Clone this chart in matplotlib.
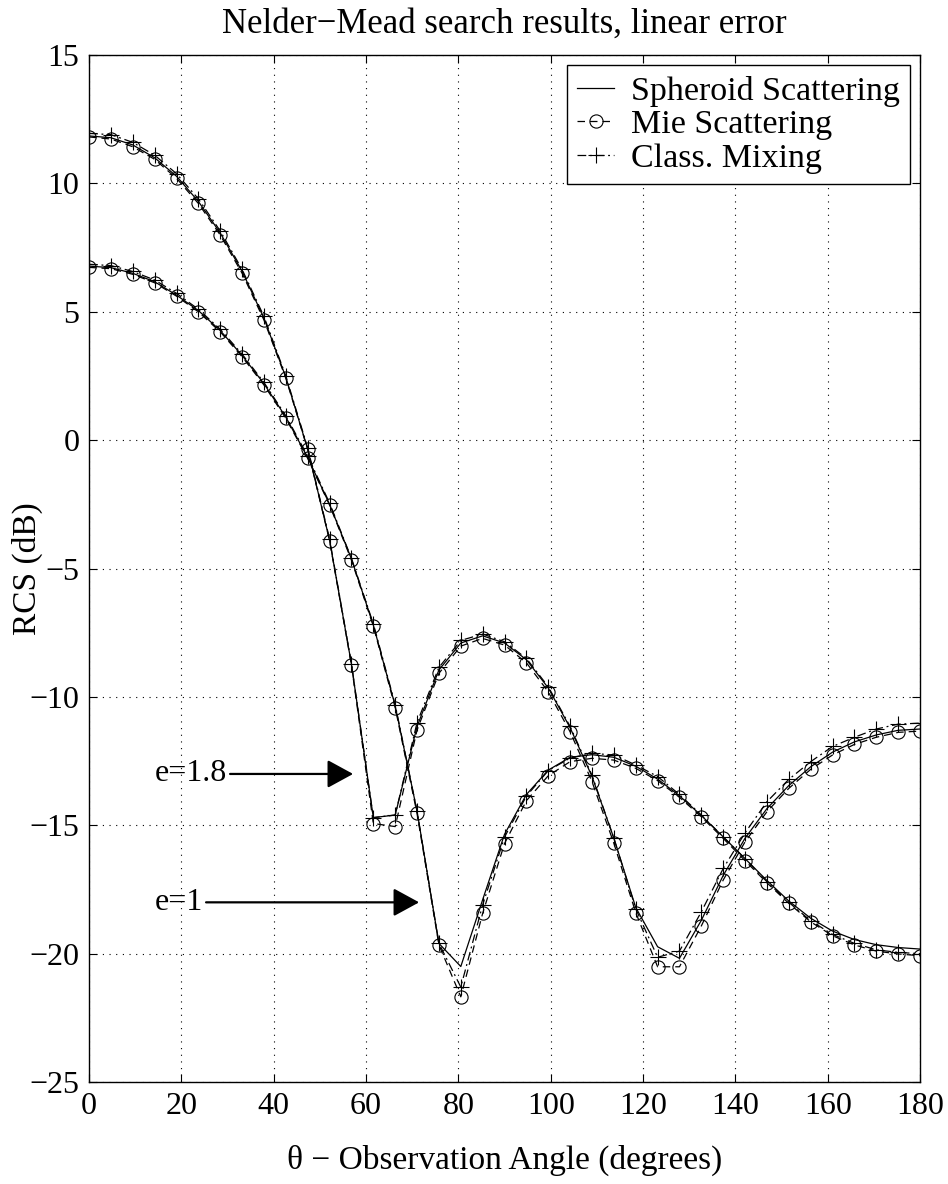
import matplotlib
matplotlib.use("Agg")
import matplotlib.pyplot as plt

plt.rcParams['font.family'] = ['Liberation Serif', 'DejaVu Serif']

# observation angles (degrees), 39 samples
theta = [0, 4.74, 9.47, 14.21, 18.95, 23.68, 28.42, 33.16, 37.89, 42.63,
         47.37, 52.11, 56.84, 61.58, 66.32, 71.05, 75.79, 80.53, 85.26, 90,
         94.74, 99.47, 104.21, 108.95, 113.68, 118.42, 123.16, 127.89, 132.63,
         137.37, 142.11, 146.84, 151.58, 156.32, 161.05, 165.79, 170.53,
         175.26, 180]

# e = 1.8
spheroid_18 = [11.85, 11.78, 11.5, 11.0, 10.28, 9.3, 8.07, 6.58, 4.75, 2.45,
               -0.35, -3.9, -8.72, -14.7, -14.6, -11.15, -8.95, -7.9, -7.62,
               -7.9, -8.55, -9.65, -11.2, -13.1, -15.5, -18.2, -19.73, -20.18,
               -18.7, -16.95, -15.5, -14.35, -13.45, -12.72, -12.15, -11.75,
               -11.48, -11.3, -11.25]
mie_18 = [11.81, 11.73, 11.43, 10.94, 10.20, 9.22, 7.99, 6.50, 4.68, 2.41,
          -0.36, -3.92, -8.76, -14.93, -15.05, -11.29, -9.08, -8.02, -7.72,
          -7.98, -8.67, -9.80, -11.36, -13.30, -15.70, -18.40, -20.51, -20.51,
          -18.92, -17.13, -15.64, -14.47, -13.56, -12.82, -12.26, -11.85,
          -11.57, -11.38, -11.33]
mixing_18 = [11.95, 11.9, 11.6, 11.1, 10.38, 9.4, 8.15, 6.65, 4.82, 2.5,
             -0.3, -3.85, -8.7, -14.7, -14.6, -11.0, -8.85, -7.8, -7.55,
             -7.85, -8.5, -9.6, -11.15, -13.05, -15.5, -18.25, -20.14, -19.9,
             -18.37, -16.68, -15.29, -14.08, -13.21, -12.52, -11.93, -11.57,
             -11.25, -11.06, -11.02]

# e = 1
spheroid_1 = [6.78, 6.72, 6.5, 6.17, 5.65, 5.05, 4.27, 3.3, 2.2, 0.9,
              -0.68, -2.5, -4.62, -7.2, -10.35, -14.45, -19.6, -20.5, -17.9,
              -15.35, -13.8, -12.85, -12.35, -12.25, -12.35, -12.7, -13.2,
              -13.85, -14.62, -15.45, -16.3, -17.15, -17.95, -18.62, -19.12,
              -19.45, -19.65, -19.76, -19.82]
mie_1 = [6.73, 6.68, 6.46, 6.13, 5.61, 5.0, 4.22, 3.25, 2.15, 0.85,
         -0.71, -2.53, -4.67, -7.24, -10.42, -14.54, -19.66, -21.68, -18.43,
         -15.71, -14.04, -13.07, -12.52, -12.39, -12.46, -12.78, -13.26,
         -13.91, -14.67, -15.51, -16.38, -17.24, -18.04, -18.76, -19.30,
         -19.66, -19.90, -20.01, -20.08]
mixing_1 = [6.85, 6.8, 6.57, 6.24, 5.72, 5.1, 4.32, 3.35, 2.25, 0.95,
            -0.62, -2.45, -4.6, -7.15, -10.3, -14.45, -19.6, -21.3, -18.1,
            -15.46, -13.86, -12.87, -12.38, -12.2, -12.26, -12.65, -13.1,
            -13.8, -14.6, -15.45, -16.3, -17.2, -18.0, -18.72, -19.25,
            -19.6, -19.85, -19.95, -20.0]

fig = plt.figure(figsize=(9.48, 11.84), dpi=100)
ax = fig.add_axes([0.0939, 0.0861, 0.8766, 0.8674])

lw = 0.9
ms = 9.5
mie_style = dict(color='k', lw=lw, ls=(0, (6, 4)), marker='o', ms=ms,
                 mfc='none', mec='k', mew=0.8)
mix_style = dict(color='k', lw=lw, ls=(0, (7, 3, 1.5, 3)), marker='+', ms=ms + 2,
                 mew=0.8)

ax.plot(theta, spheroid_18, color='k', lw=lw, label='Spheroid Scattering')
ax.plot(theta, mie_18, label='Mie Scattering', **mie_style)
ax.plot(theta, mixing_18, label='Class. Mixing', **mix_style)
ax.plot(theta, spheroid_1, color='k', lw=lw)
ax.plot(theta, mie_1, **mie_style)
ax.plot(theta, mixing_1, **mix_style)

ax.set_xlim(0, 180)
ax.set_ylim(-25, 15)
ax.set_xticks(range(0, 181, 20))
ax.set_yticks(range(-25, 16, 5))
ax.grid(True, color='k', ls=(0, (1, 5)), lw=0.8)
ax.tick_params(direction='in', length=6, width=0.8, top=True, right=True,
               labelsize=23, pad=7)
for s in ax.spines.values():
    s.set_linewidth(1.0)

ax.set_title('Nelder\u2212Mead search results, linear error', fontsize=25, pad=16)
ax.set_xlabel('\u03b8 \u2212 Observation Angle (degrees)', fontsize=24, labelpad=17)
ax.set_ylabel('RCS (dB)', fontsize=24)
ax.yaxis.set_label_coords(-0.055, 0.5)

arrow = dict(arrowstyle='-|>,head_length=0.55,head_width=0.3', color='k',
             lw=1.6, mutation_scale=29, shrinkA=0, shrinkB=0)
ax.annotate('e=1.8', xy=(57.2, -13.0), xytext=(14.3, -13.0), ha='left',
            va='center', fontsize=23, arrowprops=arrow)
ax.annotate('e=1', xy=(71.5, -18.0), xytext=(14.3, -18.0), ha='left',
            va='center', fontsize=23, arrowprops=arrow)

leg = ax.legend(loc='upper right', bbox_to_anchor=(0.9885, 0.99), fontsize=24.5,
                numpoints=1, handlelength=1.1, handletextpad=0.5,
                labelspacing=0.08, borderpad=0.3, borderaxespad=0,
                fancybox=False, framealpha=1, edgecolor='k')
leg.get_frame().set_linewidth(1.0)

fig.savefig('out.png', dpi=100)
